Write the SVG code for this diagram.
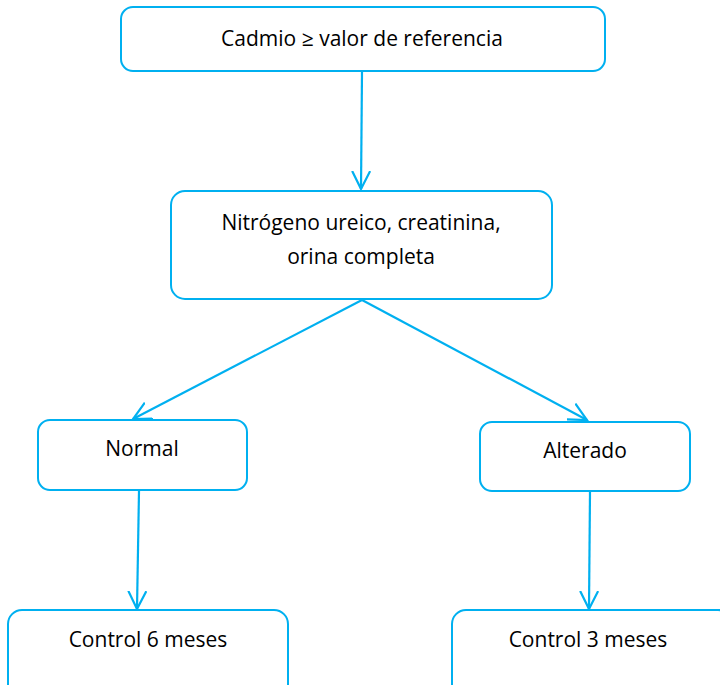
<svg xmlns="http://www.w3.org/2000/svg" width="720" height="685" viewBox="0 0 720 685">
<defs>
<style>
.box{fill:#fff;stroke:#00b0f0;stroke-width:2}
.lbl{font-family:"Open Sans","Liberation Sans",Arial,sans-serif;font-size:21px;fill:#000;text-anchor:middle}
.con{stroke:#00b0f0;stroke-width:2.2;fill:none}
</style>
<marker id="ah" viewBox="0 0 20 20" refX="18" refY="10" markerWidth="20" markerHeight="20" markerUnits="userSpaceOnUse" orient="auto">
<path d="M0,1 L18,10 L0,19" fill="none" stroke="#00b0f0" stroke-width="2.2"/>
</marker>
</defs>
<rect width="720" height="685" fill="#fff"/>
<g id="connectors">
<line class="con" x1="362" y1="72" x2="361" y2="189" marker-end="url(#ah)"/>
<line class="con" x1="362" y1="300" x2="133" y2="419" marker-end="url(#ah)"/>
<line class="con" x1="362" y1="300" x2="587" y2="420" marker-end="url(#ah)"/>
<line class="con" x1="139" y1="491" x2="137" y2="609" marker-end="url(#ah)"/>
<line class="con" x1="590" y1="492" x2="589" y2="609" marker-end="url(#ah)"/>
</g>
<g id="n1"><rect class="box" x="121" y="7" width="484" height="64" rx="12"/><text class="lbl" x="362" y="46">Cadmio ≥ valor de referencia</text></g>
<g id="n2"><rect class="box" x="171" y="191" width="381" height="108" rx="14"/><text class="lbl" x="361" y="230">Nitrógeno ureico, creatinina,</text><text class="lbl" x="361" y="264">orina completa</text></g>
<g id="n3"><rect class="box" x="38" y="420" width="209" height="70" rx="12"/><text class="lbl" x="142" y="456">Normal</text></g>
<g id="n4"><rect class="box" x="480" y="422" width="210" height="69" rx="12"/><text class="lbl" x="585" y="458">Alterado</text></g>
<g id="n5"><rect class="box" x="8" y="610" width="280" height="90" rx="14"/><text class="lbl" x="148" y="647">Control 6 meses</text></g>
<g id="n6"><rect class="box" x="452" y="610" width="280" height="90" rx="14"/><text class="lbl" x="588" y="647">Control 3 meses</text></g>
</svg>
